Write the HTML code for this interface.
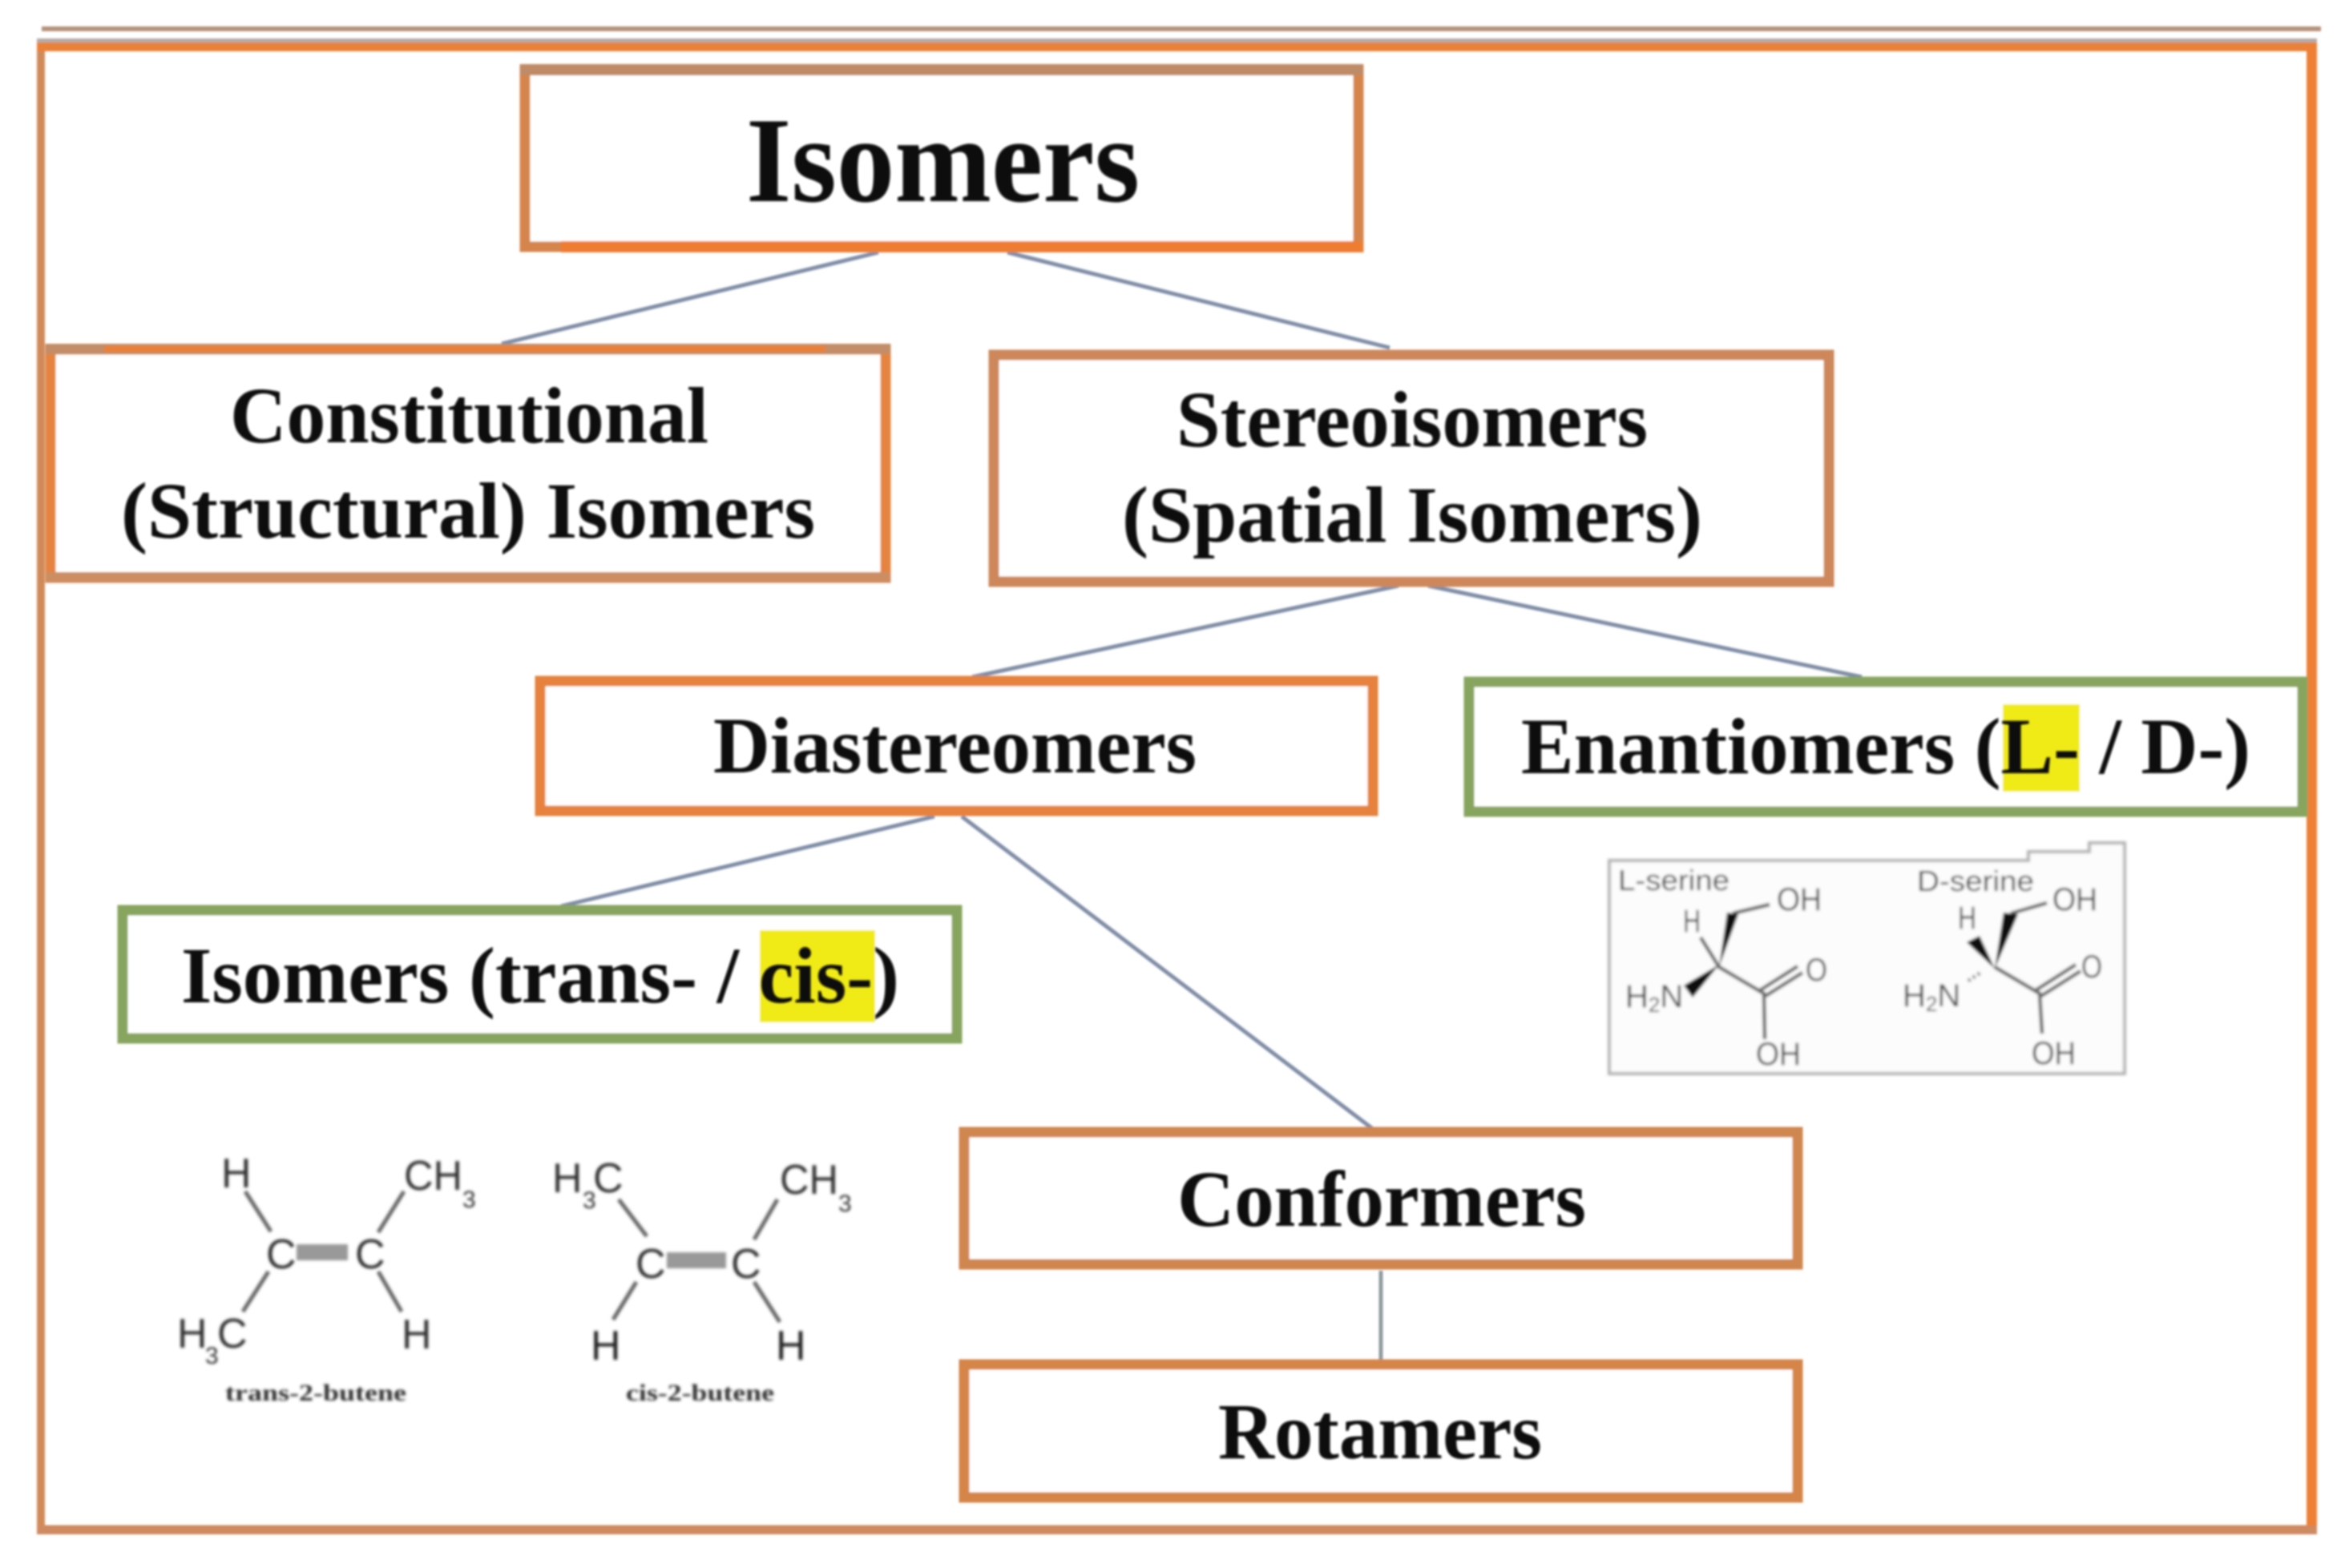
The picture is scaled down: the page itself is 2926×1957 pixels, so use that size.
<!DOCTYPE html>
<html lang="en"><head><meta charset="utf-8"><title>Isomers</title>
<style>
html,body{margin:0;padding:0;background:#fff}
svg{display:block}
.s{font-family:"Liberation Serif",serif;font-weight:700;fill:#080808}
.a{font-family:"Liberation Sans",sans-serif;fill:#444}
</style></head><body>
<svg width="2926" height="1957" viewBox="0 0 2926 1957" xmlns="http://www.w3.org/2000/svg">
<defs><filter id="b" x="-2%" y="-2%" width="104%" height="104%"><feGaussianBlur stdDeviation="1.4"/></filter>
<filter id="c" x="-2%" y="-2%" width="104%" height="104%"><feGaussianBlur stdDeviation="1.8"/></filter></defs>
<rect width="2926" height="1957" fill="#fff"/>
<g filter="url(#b)">
<!-- top rule and outer frame -->
<rect x="52" y="33" width="2844" height="6" fill="#b5937a"/>
<rect x="46" y="48" width="2845" height="5" fill="#b3aca8"/>
<rect x="51" y="58.5" width="2833" height="1850" fill="none" stroke="#d08a5a" stroke-width="10"/>
<rect x="46" y="53" width="2845" height="11" fill="#ea8138"/>
<rect x="2878" y="53" width="13" height="1860" fill="#ee8035"/>
<rect x="46" y="1904" width="2845" height="11" fill="#cf8a60"/>
<!-- connectors -->
<g stroke="#7f8da6" stroke-width="5" fill="none">
<line x1="1096" y1="315" x2="626" y2="429"/>
<line x1="1257" y1="315" x2="1734" y2="434"/>
<line x1="1745" y1="731" x2="1213" y2="845"/>
<line x1="1782" y1="731" x2="2323" y2="845"/>
<line x1="1166" y1="1019" x2="700" y2="1131"/>
<line x1="1200" y1="1019" x2="1713" y2="1409"/>
<line x1="1723" y1="1586" x2="1723" y2="1698" stroke="#8f9a9e"/>
</g>
<!-- boxes -->
<g fill="#fff" stroke-width="13">
<rect x="655" y="87" width="1040" height="221" stroke="#d5854c"/>
<rect x="63" y="436" width="1042" height="285" stroke="#e5843f"/>
<rect x="1240" y="443" width="1042" height="283" stroke="#cd875a"/>
<rect x="674" y="850" width="1039" height="162" stroke="#e6823c"/>
<rect x="1833" y="851" width="1040" height="162" stroke="#88a55f"/>
<rect x="153" y="1136" width="1041" height="160" stroke="#88a55f"/>
<rect x="1203" y="1413" width="1040" height="165" stroke="#d0864f"/>
<rect x="1203" y="1703" width="1040" height="166" stroke="#d68548"/>
</g>
<rect x="649" y="80" width="1052" height="14" fill="#bf8a66"/>
<rect x="700" y="301" width="1001" height="14" fill="#ee7d31"/>
<rect x="57" y="714" width="1054" height="13" fill="#cd8d62"/>
<rect x="57" y="429" width="1054" height="13" fill="#c28d68"/>
<rect x="130" y="432" width="900" height="7" fill="#ed7f35"/>
<!-- yellow highlights -->
<rect x="2499" y="879" width="96" height="109" fill="#f0ea14"/>
<rect x="948" y="1161" width="144" height="115" fill="#f0ea14"/>
</g>
<g filter="url(#b)">
<text class="s" x="931" y="251" font-size="152" textLength="491" lengthAdjust="spacingAndGlyphs">Isomers</text>
<text class="s" x="287" y="552" font-size="100" textLength="597" lengthAdjust="spacingAndGlyphs">Constitutional</text>
<text class="s" x="151" y="671" font-size="100" textLength="866" lengthAdjust="spacingAndGlyphs">(Structural) Isomers</text>
<text class="s" x="1468" y="557" font-size="100" textLength="588" lengthAdjust="spacingAndGlyphs">Stereoisomers</text>
<text class="s" x="1400" y="676" font-size="100" textLength="724" lengthAdjust="spacingAndGlyphs">(Spatial Isomers)</text>
<text class="s" x="890" y="964" font-size="100" textLength="603" lengthAdjust="spacingAndGlyphs">Diastereomers</text>
<text class="s" x="1898" y="965" font-size="100" textLength="910" lengthAdjust="spacingAndGlyphs">Enantiomers (L- / D-)</text>
<text class="s" x="226" y="1251" font-size="100" textLength="896" lengthAdjust="spacingAndGlyphs">Isomers (trans- / cis-)</text>
<text class="s" x="1469" y="1530" font-size="100" textLength="510" lengthAdjust="spacingAndGlyphs">Conformers</text>
<text class="s" x="1520" y="1820" font-size="100" textLength="404" lengthAdjust="spacingAndGlyphs">Rotamers</text>
</g>
<!-- serine panel -->
<g filter="url(#c)">
<path d="M2008 1074H2531V1063H2607V1052H2651V1340H2008Z" fill="#fcfcfc" stroke="#b3b3b3" stroke-width="4"/>
<g>
<text class="a" x="2019" y="1111" font-size="36" textLength="139" lengthAdjust="spacingAndGlyphs">L-serine</text>
<text class="a" x="2392" y="1112" font-size="36" textLength="146" lengthAdjust="spacingAndGlyphs">D-serine</text>
<text class="a" x="2217" y="1136" font-size="40" textLength="56" lengthAdjust="spacingAndGlyphs">OH</text>
<text class="a" x="2100" y="1163" font-size="40" textLength="22" lengthAdjust="spacingAndGlyphs">H</text>
<text class="a" x="2028" y="1257" font-size="40">H<tspan font-size="26" dy="6">2</tspan><tspan dy="-6">N</tspan></text>
<text class="a" x="2253" y="1224" font-size="40" textLength="27" lengthAdjust="spacingAndGlyphs">O</text>
<text class="a" x="2191" y="1329" font-size="40" textLength="56" lengthAdjust="spacingAndGlyphs">OH</text>
<text class="a" x="2561" y="1136" font-size="40" textLength="56" lengthAdjust="spacingAndGlyphs">OH</text>
<text class="a" x="2443" y="1159" font-size="40" textLength="23" lengthAdjust="spacingAndGlyphs">H</text>
<text class="a" x="2374" y="1256" font-size="40">H<tspan font-size="26" dy="6">2</tspan><tspan dy="-6">N</tspan></text>
<text class="a" x="2597" y="1220" font-size="40" textLength="26" lengthAdjust="spacingAndGlyphs">O</text>
<text class="a" x="2535" y="1328" font-size="40" textLength="55" lengthAdjust="spacingAndGlyphs">OH</text>
</g>
<g stroke="#666" stroke-width="4.5" fill="none">
<path d="M2122 1170L2145 1207L2201 1240L2202 1297"/>
<path d="M2162 1140L2208 1129"/>
<path d="M2196 1236L2243 1206M2203 1243L2249 1214"/>
<path d="M2489 1207L2545 1240L2548 1290"/>
<path d="M2509 1140L2554 1127"/>
<path d="M2540 1236L2590 1204M2547 1243L2596 1212"/>
<path d="M2456 1224L2473 1213" stroke-dasharray="3 4"/>
</g>
<g fill="#111">
<polygon points="2145,1207 2155,1139 2169,1141"/>
<polygon points="2145,1204 2101,1230 2112,1245"/>
<polygon points="2489,1209 2454,1176 2470,1168"/>
<polygon points="2489,1209 2500,1139 2518,1141"/>
</g>
</g>
<!-- butene structures -->
<g filter="url(#c)">
<g style="font-weight:400">
<text class="a" x="276" y="1482" font-size="52" style="fill:#333">H</text>
<text class="a" x="504" y="1485" font-size="52" textLength="73" lengthAdjust="spacingAndGlyphs" style="fill:#333">CH</text>
<text class="a" x="577" y="1507" font-size="30" style="fill:#333">3</text>
<text class="a" x="332" y="1583" font-size="52" style="fill:#333">C</text>
<text class="a" x="443" y="1583" font-size="52" style="fill:#333">C</text>
<text class="a" x="221" y="1682" font-size="52" style="fill:#333">H</text>
<text class="a" x="256" y="1702" font-size="30" style="fill:#333">3</text>
<text class="a" x="271" y="1682" font-size="52" style="fill:#333">C</text>
<text class="a" x="501" y="1683" font-size="52" style="fill:#333">H</text>
<text class="a" x="689" y="1488" font-size="52" style="fill:#333">H</text>
<text class="a" x="727" y="1508" font-size="30" style="fill:#333">3</text>
<text class="a" x="740" y="1488" font-size="52" style="fill:#333">C</text>
<text class="a" x="973" y="1490" font-size="52" textLength="73" lengthAdjust="spacingAndGlyphs" style="fill:#333">CH</text>
<text class="a" x="1046" y="1512" font-size="30" style="fill:#333">3</text>
<text class="a" x="793" y="1595" font-size="52" style="fill:#333">C</text>
<text class="a" x="912" y="1595" font-size="52" style="fill:#333">C</text>
<text class="a" x="737" y="1697" font-size="52" style="fill:#222">H</text>
<text class="a" x="968" y="1697" font-size="52" style="fill:#222">H</text>
</g>
<g stroke="#666" stroke-width="5" fill="none">
<path d="M306 1487L338 1537M504 1487L472 1538M335 1587L303 1637M472 1587L501 1637"/>
<path d="M772 1497L807 1543M970 1497L941 1547M794 1600L765 1647M941 1600L973 1650"/>
</g>
<rect x="370" y="1553" width="64" height="20" fill="#999"/>
<rect x="832" y="1563" width="74" height="20" fill="#999"/>
<text class="s" x="281" y="1748" font-size="30" textLength="226" lengthAdjust="spacingAndGlyphs" style="fill:#333">trans-2-butene</text>
<text class="s" x="781" y="1748" font-size="30" textLength="185" lengthAdjust="spacingAndGlyphs" style="fill:#333">cis-2-butene</text>
</g>
</svg>
</body></html>
